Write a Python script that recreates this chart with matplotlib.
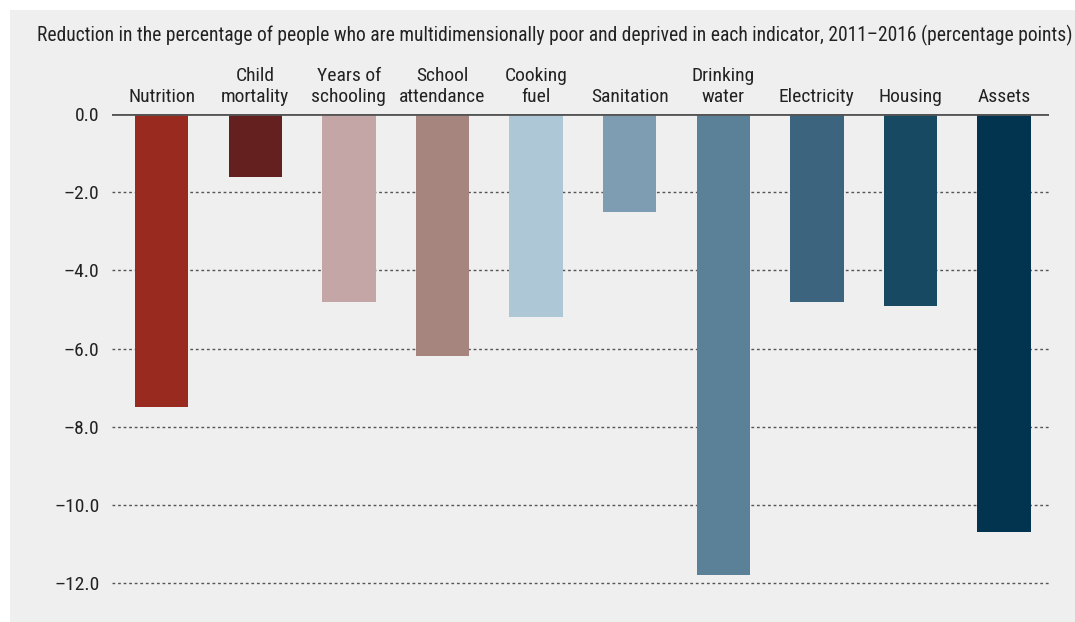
import matplotlib.pyplot as plt
from matplotlib.patches import Rectangle
from matplotlib.ticker import FuncFormatter
from matplotlib import font_manager

indicators = ["Nutrition", "Child\nmortality", "Years of\nschooling", "School\nattendance",
              "Cooking\nfuel", "Sanitation", "Drinking\nwater", "Electricity", "Housing", "Assets"]
reduction = [-7.5, -1.6, -4.8, -6.2, -5.2, -2.5, -11.8, -4.8, -4.9, -10.7]
bar_colors = ["#982a20", "#64201f", "#c4a6a6", "#a5857e", "#aec7d6",
              "#7e9db2", "#5b8198", "#3d647f", "#174963", "#02334f"]
title = ("Reduction in the percentage of people who are multidimensionally poor and deprived "
         "in each indicator, 2011\u20132016 (percentage points)")

names = {f.name for f in font_manager.fontManager.ttflist}
fams = [f for f in ["Roboto Condensed", "Liberation Sans Narrow", "Roboto"] if f in names]
plt.rcParams["font.family"] = fams + ["DejaVu Sans"]

W, H = 1075, 622
fig = plt.figure(figsize=(W / 100, H / 100), dpi=100)
fig.patches.append(Rectangle((10 / W, 0), 1, 1 - 10 / H, transform=fig.transFigure,
                             facecolor="#efefef", edgecolor="none", zorder=-1))

# y: 0 at 114px, -12 at 583px; leave a little room below -12 so its gridline is not clipped
ax = fig.add_axes([112 / W, 1 - 587 / H, (1049 - 112) / W, (587 - 114) / H])
ax.set_facecolor("none")

x = range(len(indicators))
ax.bar(x, reduction, width=0.57, color=bar_colors, zorder=2)
ax.set_xlim(-0.53, 9.48)
ax.set_ylim(-12.1, 0)
ax.set_yticks([0, -2, -4, -6, -8, -10, -12])
ax.yaxis.set_major_formatter(FuncFormatter(lambda v, p: f"{v:.1f}".replace("-", "\u2013")))
ax.grid(axis="y", linestyle=(0, (2, 2)), color="#555555", linewidth=1, zorder=1)
ax.axhline(0, color="#555555", linewidth=2, zorder=3)

ax.xaxis.tick_top()
ax.set_xticks(list(x))
ax.set_xticklabels(indicators, fontsize=14, color="#222222", linespacing=1.2)
ax.tick_params(axis="x", length=0, pad=6)
ax.tick_params(axis="y", length=0, pad=9, labelsize=14, labelcolor="#222222")
for s in ax.spines.values():
    s.set_visible(False)

fig.text(37 / W, 1 - 35 / H, title, fontsize=14.05, color="#222222", va="center", ha="left")

fig.savefig("out.png", dpi=100)
